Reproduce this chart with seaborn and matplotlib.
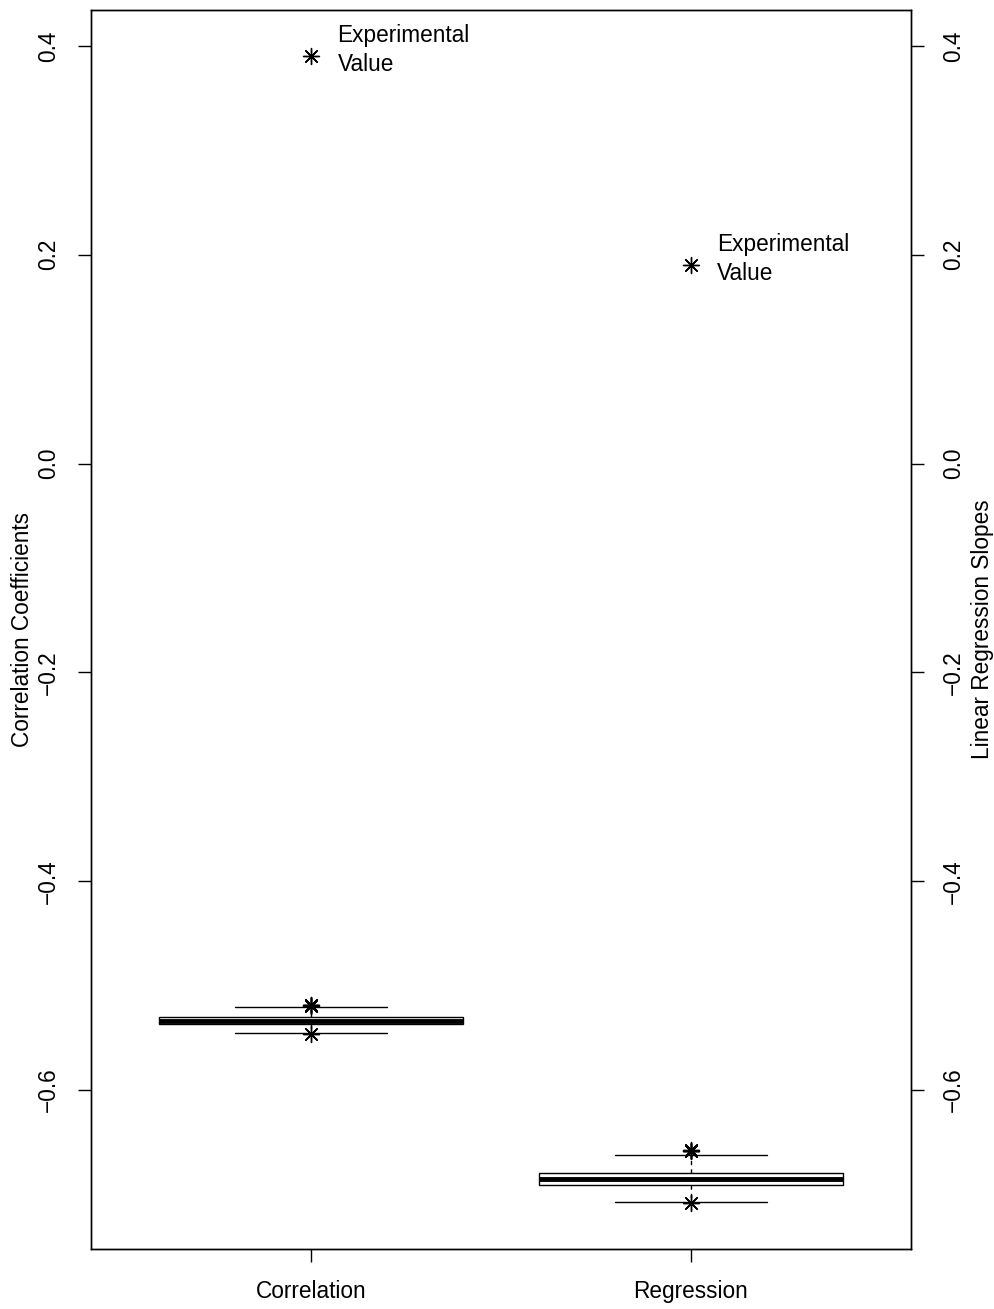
import pandas as pd
import numpy as np
import matplotlib
matplotlib.use('Agg')
import matplotlib.pyplot as plt
import seaborn as sns

# five-number summaries (min, Q1, median, Q3, max)
groups = ['Correlation', 'Regression']
corr_summary = [-0.5457, -0.5368, -0.5335, -0.5301, -0.5203]
reg_summary = [-0.7069, -0.6909, -0.6856, -0.6791, -0.6622]

# extra points drawn as asterisks near the whisker ends
corr_points = [-0.5184, -0.5188, -0.5191, -0.5459]
reg_points = [-0.6578, -0.6581, -0.6585, -0.7084]

# experimental values
exp_values = [0.3904, 0.1904]
exp_label = 'Experimental\nValue'

y_ticks = [0.4, 0.2, 0.0, -0.2, -0.4, -0.6]
y_ticklabels = ['0.4', '0.2', '0.0', '\u22120.2', '\u22120.4', '\u22120.6']

sns.set_theme(style='ticks')
plt.rcParams['font.family'] = ['Liberation Sans', 'DejaVu Sans']
plt.rcParams.update({'text.color': 'black', 'axes.labelcolor': 'black',
                     'xtick.color': 'black', 'ytick.color': 'black'})

box_df = pd.DataFrame({
    'group': [groups[0]] * len(corr_summary) + [groups[1]] * len(reg_summary),
    'value': corr_summary + reg_summary,
})
pts_df = pd.DataFrame({
    'group': [groups[0]] * len(corr_points) + [groups[1]] * len(reg_points),
    'value': corr_points + reg_points,
})
exp_df = pd.DataFrame({'group': groups, 'value': exp_values})

fig = plt.figure(figsize=(9.95, 13.09), dpi=100)
ax = fig.add_axes([0.0915, 0.0458, 0.8241, 0.9465])

sns.boxplot(data=box_df, x='group', y='value', order=groups, ax=ax,
            whis=(0, 100), width=0.8, showfliers=False,
            color='white', linecolor='black', linewidth=1,
            whiskerprops={'linestyle': (0, (3, 3))},
            medianprops={'linewidth': 3.5, 'color': 'black'})

asterisk = (8, 2, 0)
sns.stripplot(data=pts_df, x='group', y='value', order=groups, ax=ax,
              jitter=False, marker=asterisk, size=11.5, color='black',
              edgecolor='black', linewidth=1)
sns.stripplot(data=exp_df, x='group', y='value', order=groups, ax=ax,
              jitter=False, marker=asterisk, size=11.5, color='black',
              edgecolor='black', linewidth=1)

for i, v in enumerate(exp_values):
    ax.annotate(exp_label, xy=(i, v), xytext=(19, 4), textcoords='offset points',
                ha='left', va='center', fontsize=16.3, linespacing=1.33)

ax.set_xlim(-0.58, 1.58)
ax.set_ylim(-0.7523, 0.4343)
ax.set_yticks(y_ticks)
ax.set_yticklabels(y_ticklabels, rotation=90, va='center')
ax.set_xlabel('')
ax.set_ylabel('Correlation Coefficients', fontsize=16.3, labelpad=2)

ax2 = ax.twinx()
ax2.set_ylim(ax.get_ylim())
ax2.set_yticks(y_ticks)
ax2.set_yticklabels(y_ticklabels, rotation=90, va='center')
ax2.set_ylabel('Linear Regression Slopes', fontsize=16.3, labelpad=4)

for a in (ax, ax2):
    a.tick_params(axis='both', length=9.5, width=1, color='black',
                  labelsize=16.3, labelcolor='black', pad=13, direction='out')
    for s in a.spines.values():
        s.set_visible(True)
        s.set_color('black')
        s.set_linewidth(1)
ax.tick_params(axis='y', right=False)
ax2.tick_params(axis='y', left=False)

fig.savefig('out.png', dpi=100)
